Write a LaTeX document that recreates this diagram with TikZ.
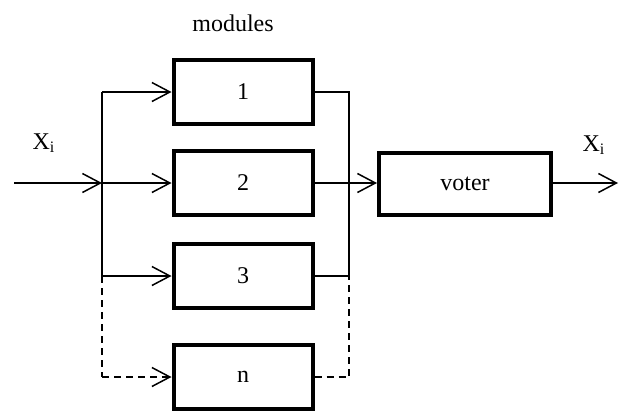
\documentclass[tikz,border=0pt]{standalone}
\usepackage{fontspec}
\setmainfont{Liberation Serif}
\usetikzlibrary{arrows.meta}
\tikzset{
  module/.style={draw, line width=2pt, minimum width=69.5pt, minimum height=32pt, inner sep=0pt},
  arr/.style={-{Straight Barb[length=9pt,width=9.5pt]}},
  bus/.style={dash pattern=on 3.5pt off 2.5pt},
}
\begin{document}
\begin{tikzpicture}[x=0.5pt, y=-0.5pt, line width=0.75pt, font=\fontsize{12}{14}\selectfont]
    \useasboundingbox (0,0) rectangle (622,412);
    % modules and voter
    \node[module] (m1) at (243,92) {1};
    \node[module] (m2) at (243,183) {2};
    \node[module] (m3) at (243,276) {3};
    \node[module] (mn) at (243,377) {n};
    \node[module, minimum width=86pt, minimum height=31pt] (voter) at (465,184) {voter};
    \node (title) at (233,23) {modules};
    \node (xin) at (44,143) {X\textsubscript{i}};
    \node (xout) at (594,145) {X\textsubscript{i}};
    % split and join points
    \coordinate (in) at (14,183);
    \coordinate (split) at (102,183);
    \coordinate (join) at (349,183);
    \coordinate (out) at (618,183);
    % input side
    \draw[arr] (in) -- (split);
    \draw (split |- m1) -- (split |- m3);
    \draw[bus] (split |- m3) -- (split |- mn);
    \draw[arr] (split |- m1) -- (m1.west);
    \draw[arr] (split) -- (m2.west);
    \draw[arr] (split |- m3) -- (m3.west);
    \draw[arr, bus] (split |- mn) -- (mn.west);
    % output side
    \draw (m1.east) -- (join |- m1) -- (join |- m3);
    \draw (m3.east) -- (join |- m3);
    \draw[bus] (mn.east) -- (join |- mn) -- (join |- m3);
    \draw[arr] (m2.east) -- (m2.east -| voter.west);
    \draw[arr] (voter.east |- out) -- (out);
  \end{tikzpicture}
\end{document}
